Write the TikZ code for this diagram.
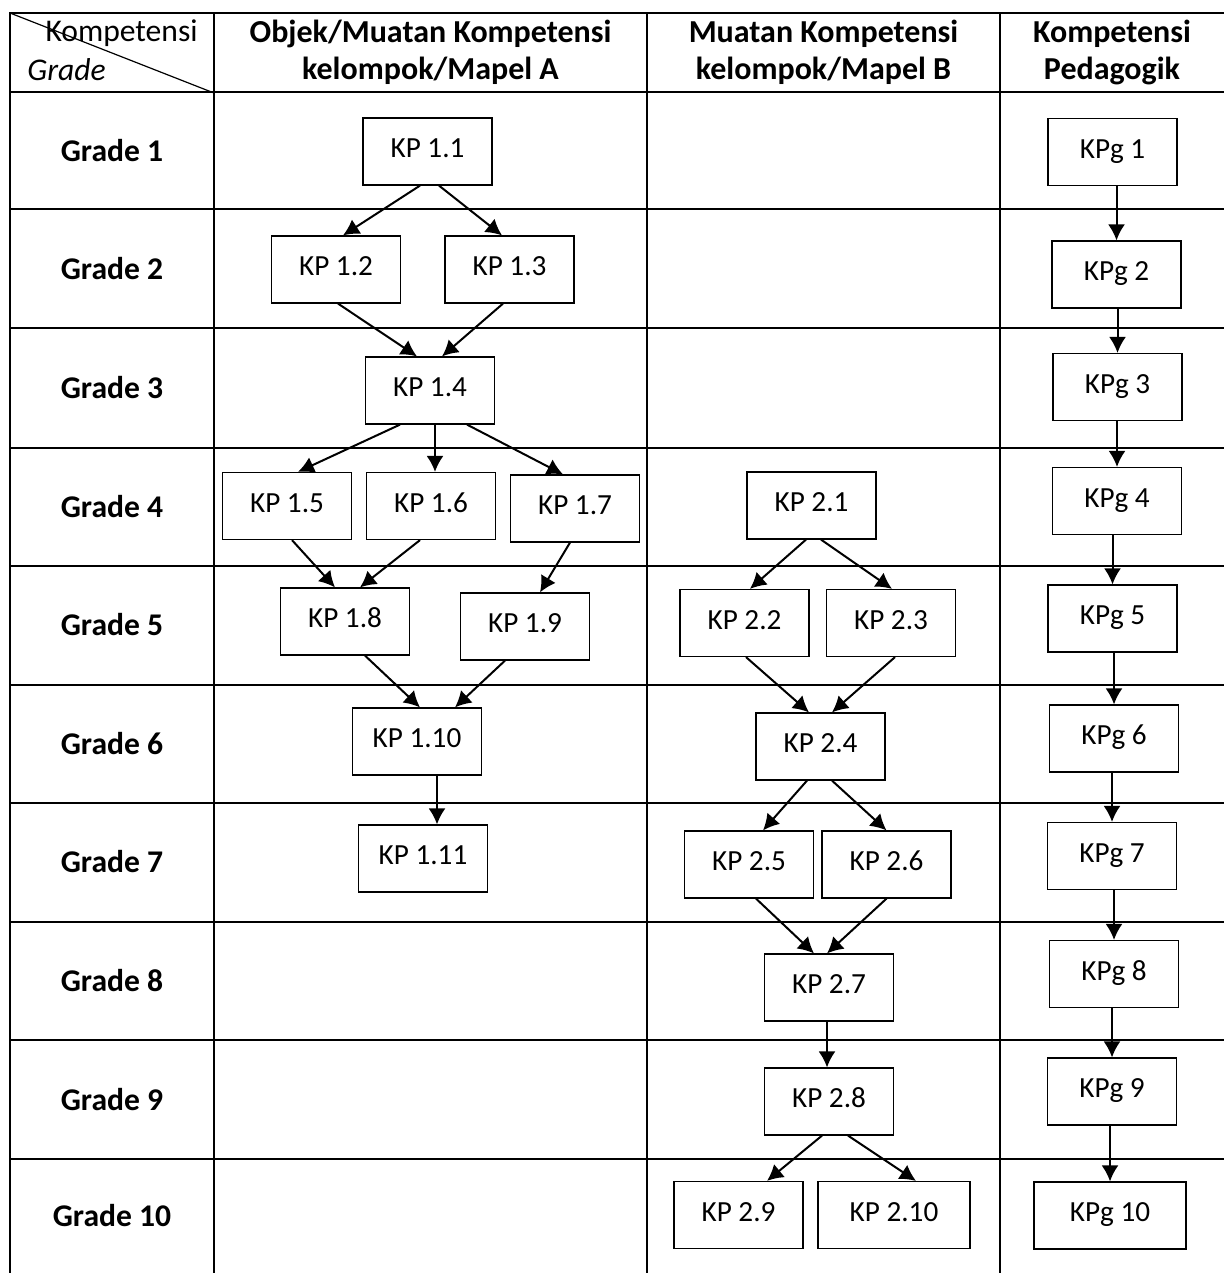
\documentclass[tikz,border=0pt]{standalone}
\usepackage{fontspec}
\setmainfont{Carlito}
\usetikzlibrary{arrows.meta,calc}

\tikzset{
KP/.style={draw=black, rectangle, inner sep=0pt, minimum width=64.5pt,
        minimum height=33.5pt, line width=0.6pt, text height=9.4pt, text depth=3pt,
        font=\fontsize{14.6}{16}\selectfont},
KPwide/.style={KP, minimum width=76pt},
GradeLabel/.style={font=\fontsize{15.8}{18}\selectfont\bfseries},
HeadTitle/.style={align=center, font=\fontsize{16}{18.5}\selectfont\bfseries},
HeadCorner/.style={font=\fontsize{15.8}{18}\selectfont, inner sep=0pt},
TableLine/.style={draw=black, line width=1pt, line cap=rect},
FlowLine/.style={arrows={-{Latex[length=8pt,width=8.5pt]}},draw=black,line width=1pt},
}

\begin{document}
\begin{tikzpicture}[x=0.5pt,y=-0.5pt]
	\useasboundingbox (0,0) rectangle (1224,1273);
	% table
	\foreach \y in {13,92,209.5,328,448,566,685,803,922,1040,1159}
		\draw[TableLine] (10,\y) -- (1224,\y);
	\foreach \x in {10,214,647,1000}
		\draw[TableLine] (\x,13) -- (\x,1273);
	\draw[line width=0.6pt] (10,13) -- (214,93);

	% header
	\node[HeadCorner, anchor=east] (hKomp) at (198,33) {Kompetensi};
	\node[HeadCorner, anchor=west, font=\fontsize{15.8}{18}\selectfont\itshape] (hGrade) at (27,70) {Grade};
	\node[HeadTitle] (hA) at (430.5,52) {Objek/Muatan Kompetensi\\kelompok/Mapel A};
	\node[HeadTitle] (hB) at (823.5,52) {Muatan Kompetensi\\kelompok/Mapel B};
	\node[HeadTitle] (hP) at (1112,52) {Kompetensi\\Pedagogik};

	\foreach \i/\y in {1/151,2/269,3/388,4/507,5/625,6/744,7/862,8/981,9/1100,10/1216}
		\node[GradeLabel] (G\i) at (112,\y) {Grade \i};

	% kelompok A
	\node[KP] (KP11) at (427.5,151.5) {KP 1.1};
	\node[KP] (KP12) at (336,269.5) {KP 1.2};
	\node[KP] (KP13) at (509.5,269.5) {KP 1.3};
	\node[KP] (KP14) at (430,390.5) {KP 1.4};
	\node[KP] (KP15) at (287,506) {KP 1.5};
	\node[KP] (KP16) at (431,506) {KP 1.6};
	\node[KP] (KP17) at (575,508.5) {KP 1.7};
	\node[KP] (KP18) at (345,621.5) {KP 1.8};
	\node[KP] (KP19) at (525,626.5) {KP 1.9};
	\node[KP] (KP110) at (417,741.5) {KP 1.10};
	\node[KP] (KP111) at (423,858.5) {KP 1.11};

	% kelompok B
	\node[KP] (KP21) at (811.5,505.5) {KP 2.1};
	\node[KP] (KP22) at (744.5,623) {KP 2.2};
	\node[KP] (KP23) at (891,623) {KP 2.3};
	\node[KP] (KP24) at (820.5,746.5) {KP 2.4};
	\node[KP] (KP25) at (749,864.5) {KP 2.5};
	\node[KP] (KP26) at (886.5,864.5) {KP 2.6};
	\node[KP] (KP27) at (829,987.5) {KP 2.7};
	\node[KP] (KP28) at (829,1101.5) {KP 2.8};
	\node[KP] (KP29) at (738.5,1215) {KP 2.9};
	\node[KPwide] (KP210) at (894,1215) {KP 2.10};

	% pedagogik
	\foreach \i/\x/\y in {1/1112.5/152,2/1116.5/274.5,3/1117.5/387,4/1117/501,5/1112.5/618.5,
			6/1114/738.5,7/1112/856,8/1114/974,9/1112/1091.5}
		\node[KP] (KPg\i) at (\x,\y) {KPg \i};
	\node[KPwide] (KPg10) at (1110,1215.5) {KPg 10};

	\foreach \a/\da/\b/\db in {KP11/-7.5/KP12/7, KP11/11.5/KP13/-7.5, KP12/2/KP14/-13, KP13/-6.5/KP14/12,
			KP14/-30/KP15/11, KP14/5/KP16/4, KP14/37/KP17/-12, KP15/5/KP18/-10, KP16/-11/KP18/15,
			KP17/-5/KP19/15, KP18/20/KP110/3, KP19/-20/KP110/38, KP110/20/KP111/14,
			KP21/-5.5/KP22/5.5, KP21/9.5/KP23/1, KP22/1.5/KP24/-11.5, KP23/4/KP24/11.5,
			KP24/-13.5/KP25/14, KP24/11.5/KP26/0, KP25/7/KP27/-15, KP26/0/KP27/-2,
			KP27/-2/KP28/-2, KP28/-7/KP29/28.5, KP28/19/KP210/22}
		\draw[FlowLine] ($(\a.south)+(\da,0)$) -- ($(\b.north)+(\db,0)$);
	\foreach \i [evaluate=\i as \j using int(\i+1)] in {1,...,9}
		\draw[FlowLine] (KPg\i.south -| KPg\j.north) -- (KPg\j.north);
\end{tikzpicture}
\end{document}
